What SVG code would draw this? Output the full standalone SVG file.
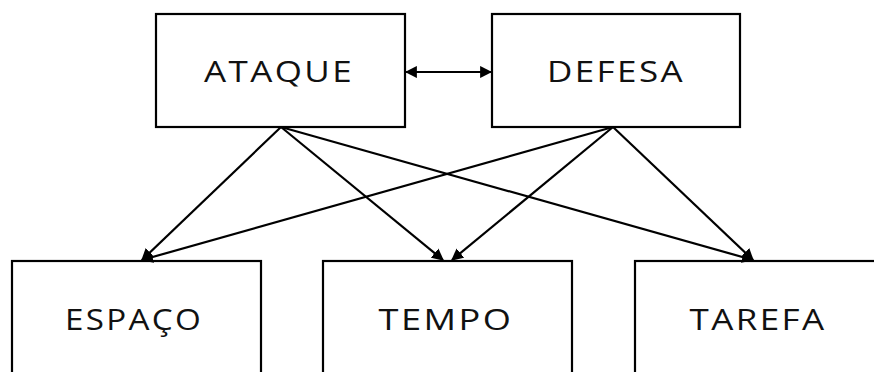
<svg xmlns="http://www.w3.org/2000/svg" width="874" height="372" viewBox="0 0 874 372">
<style>
.box{fill:#fff;stroke:#000;stroke-width:2.2}
.lbl{font-family:"Open Sans","Liberation Sans",sans-serif;font-size:29px;letter-spacing:2px;fill:#111;text-anchor:middle}
.edge{stroke:#000;stroke-width:2.2;fill:none}
</style>
<defs>
<marker id="ah" viewBox="0 0 10 10" refX="9" refY="5" markerWidth="5.5" markerHeight="5.5" orient="auto-start-reverse" markerUnits="strokeWidth">
<path d="M0,0 L10,5 L0,10 z" fill="#000"/>
</marker>
</defs>
<rect width="874" height="372" fill="#fff"/>
<g id="ataque"><rect class="box" x="156" y="14" width="249" height="113"/><text class="lbl" x="279" y="82" textLength="150" lengthAdjust="spacingAndGlyphs">ATAQUE</text></g>
<g id="defesa"><rect class="box" x="492" y="14" width="248" height="113"/><text class="lbl" x="616" y="82" textLength="138" lengthAdjust="spacingAndGlyphs">DEFESA</text></g>
<g id="espaco"><rect class="box" x="12" y="261" width="249" height="120"/><text class="lbl" x="134" y="330" textLength="138" lengthAdjust="spacingAndGlyphs">ESPAÇO</text></g>
<g id="tempo"><rect class="box" x="323" y="261" width="249" height="120"/><text class="lbl" x="446" y="330" textLength="135" lengthAdjust="spacingAndGlyphs">TEMPO</text></g>
<g id="tarefa"><rect class="box" x="635" y="261" width="249" height="120"/><text class="lbl" x="758" y="330" textLength="137" lengthAdjust="spacingAndGlyphs">TAREFA</text></g>
<g id="connectors">
<line class="edge" x1="406" y1="72" x2="491" y2="72" marker-start="url(#ah)" marker-end="url(#ah)"/>
<line class="edge" x1="281" y1="127" x2="142" y2="260" marker-end="url(#ah)"/>
<line class="edge" x1="281" y1="127" x2="443" y2="260" marker-end="url(#ah)"/>
<line class="edge" x1="281" y1="127" x2="753" y2="260" marker-end="url(#ah)"/>
<line class="edge" x1="613" y1="127" x2="142" y2="260" marker-end="url(#ah)"/>
<line class="edge" x1="613" y1="127" x2="452" y2="260" marker-end="url(#ah)"/>
<line class="edge" x1="613" y1="127" x2="753" y2="260" marker-end="url(#ah)"/>
</g>
</svg>
